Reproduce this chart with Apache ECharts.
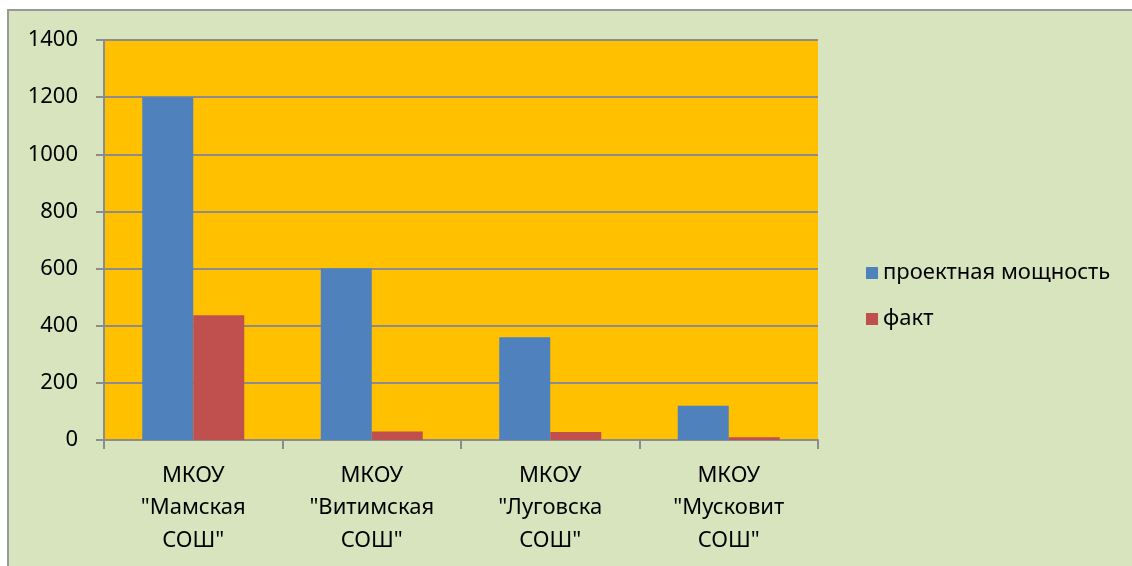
<!DOCTYPE html>
<html>
<head>
<meta charset="utf-8">
<script src="https://cdn.jsdelivr.net/npm/echarts@6/dist/echarts.min.js"></script>
<style>
  html, body { margin: 0; padding: 0; background: #ffffff; }
  #chart { width: 1132px; height: 566px; }
</style>
</head>
<body>
<div id="chart"></div>
<script>
const categories = ['МКОУ\n"Мамская\nСОШ"', 'МКОУ\n"Витимская\nСОШ"', 'МКОУ\n"Луговска\nСОШ"', 'МКОУ\n"Мусковит\nСОШ"'];
const designCapacity = [1200, 600, 360, 120];
const actual = [437, 30, 28, 10];
const seriesNames = ['проектная мощность', 'факт'];
const yTicks = { min: 0, max: 1400, interval: 200 };

const myChart = echarts.init(document.getElementById('chart'));
const font = 'Noto Sans';

const option = {
    animation: false,
    textStyle: { fontFamily: font },
    graphic: [{
        type: 'rect',
        z: -10,
        shape: { x: 8, y: 10, width: 1130, height: 560 },
        style: { fill: '#D7E4BD', stroke: '#999999', lineWidth: 2 }
    }],
    grid: {
        left: 104, top: 40, width: 714, height: 400,
        show: true,
        backgroundColor: '#FFC000',
        borderWidth: 0,
        containLabel: false
    },
    legend: {
        orient: 'vertical',
        left: 861, top: 255,
        itemWidth: 12, itemHeight: 12,
        itemGap: 20,
        icon: 'rect',
        textStyle: { color: '#000', fontSize: 22, lineHeight: 26, fontFamily: font },
        data: seriesNames
    },
    xAxis: {
        type: 'category',
        data: categories,
        axisLine: { lineStyle: { color: '#8c8c8c', width: 2 } },
        axisTick: { show: true, length: 9, lineStyle: { color: '#8c8c8c', width: 2 } },
        axisLabel: { color: '#000', fontSize: 22, lineHeight: 32.5, margin: 19, interval: 0 },
        splitLine: { show: false }
    },
    yAxis: {
        type: 'value',
        min: yTicks.min, max: yTicks.max, interval: yTicks.interval,
        axisLine: { show: true, lineStyle: { color: '#8c8c8c', width: 2 } },
        axisTick: { show: true, length: 8, lineStyle: { color: '#8c8c8c', width: 2 } },
        axisLabel: { color: '#000', fontSize: 22, margin: 26, formatter: v => String(v) },
        splitLine: { show: true, lineStyle: { color: '#8c8c8c', width: 2 } }
    },
    series: [
        {
            name: seriesNames[0],
            type: 'bar',
            data: designCapacity,
            barWidth: 51,
            barGap: '0%',
            itemStyle: { color: '#4F81BD' }
        },
        {
            name: seriesNames[1],
            type: 'bar',
            data: actual,
            barWidth: 51,
            barGap: '0%',
            itemStyle: { color: '#C0504D' }
        }
    ]
};

myChart.setOption(option);
</script>
</body>
</html>
